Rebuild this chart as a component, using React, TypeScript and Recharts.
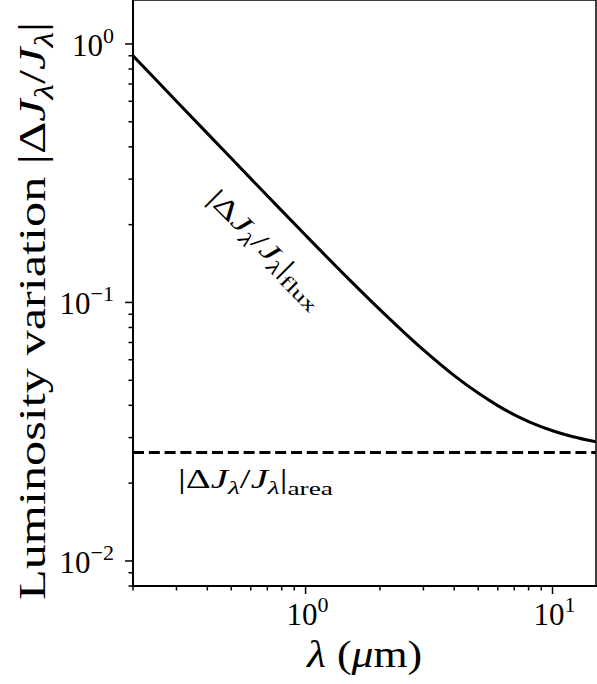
import React from "react";
import { LineChart, Line, XAxis, YAxis, ReferenceLine } from "recharts";

const lambda = [0.2, 0.25, 0.3, 0.4, 0.5, 0.6, 0.8, 1, 1.5, 2, 3, 4, 5, 6, 8, 10, 12, 15];
const fluxVariation = [
  0.9, 0.7205, 0.6006, 0.4508, 0.361, 0.3012, 0.2265, 0.1819, 0.1228, 0.0938, 0.0655,
  0.0521, 0.0446, 0.0399, 0.0346, 0.0319, 0.0303, 0.0289,
];
const areaVariation = 0.0263;

const xMajor = [1, 10];
const xMinor = [0.2, 0.3, 0.4, 0.5, 0.6, 0.7, 0.8, 0.9, 2, 3, 4, 5, 6, 7, 8, 9];
const yMajor = [0.01, 0.1, 1];
const yMinor = [0.008, 0.009, 0.02, 0.03, 0.04, 0.05, 0.06, 0.07, 0.08, 0.09, 0.2, 0.3, 0.4, 0.5, 0.6, 0.7, 0.8, 0.9];
const exponents: Record<number, string> = { 0.01: "\u22122", 0.1: "\u22121", 1: "0", 10: "1" };

const data = lambda.map((lam, i) => ({ lam, flux: fluxVariation[i] }));

const W = 597;
const H = 684;
const LEFT = 133;
const RIGHT = 596;
const TOP = 1;
const BOTTOM = 586;
const FONT = "'Liberation Serif', serif";

const isMajor = (v: number, majors: number[]) => majors.some((m) => Math.abs(m - v) < 1e-9);

function XTick(props: any) {
  const { x, payload } = props;
  const v = payload.value;
  const major = isMajor(v, xMajor);
  return (
    <g>
      <line x1={x} x2={x} y1={BOTTOM} y2={BOTTOM + (major ? 8 : 4.5)} stroke="#000" strokeWidth={1.5} />
      {major && (
        <text x={x + 2} y={BOTTOM + 39} textAnchor="middle" fontFamily={FONT} fontSize={31} fill="#000">
          10
          <tspan dy={-13} fontSize={22}>
            {exponents[v]}
          </tspan>
        </text>
      )}
    </g>
  );
}

function YTick(props: any) {
  const { y, payload } = props;
  const v = payload.value;
  const major = isMajor(v, yMajor);
  return (
    <g>
      <line x1={LEFT} x2={LEFT - (major ? 8 : 4.5)} y1={y} y2={y} stroke="#000" strokeWidth={1.5} />
      {major && (
        <text x={LEFT - 19} y={y + 12} textAnchor="end" fontFamily={FONT} fontSize={31} fill="#000">
          10
          <tspan dy={-13} fontSize={22}>
            {exponents[v]}
          </tspan>
        </text>
      )}
    </g>
  );
}

function RatioLabel({ sub, size }: { sub: string; size: number }) {
  const s = Math.round(size * 0.7);
  const d = Math.round(size * 0.22);
  return (
    <>
      |Δ<tspan fontStyle="italic">J</tspan>
      <tspan dy={d} fontSize={s} fontStyle="italic">λ</tspan>
      <tspan dy={-d}>/</tspan>
      <tspan fontStyle="italic">J</tspan>
      <tspan dy={d} fontSize={s} fontStyle="italic">λ</tspan>
      <tspan dy={-d}>|</tspan>
      {sub && (
        <tspan dy={d + 1} fontSize={s}>
          {sub}
        </tspan>
      )}
    </>
  );
}

export default function App() {
  return (
    <div style={{ position: "absolute", left: 0, top: 0, width: W, height: H, background: "#fff" }}>
      <LineChart width={W} height={H} data={data} margin={{ top: TOP, right: W - RIGHT, bottom: 0, left: 0 }}>
        <XAxis
          dataKey="lam"
          type="number"
          scale="log"
          domain={[0.2, 15]}
          allowDataOverflow
          ticks={[...xMinor, ...xMajor].sort((a, b) => a - b)}
          interval={0}
          tick={XTick}
          tickLine={false}
          axisLine={false}
          height={H - BOTTOM}
        />
        <YAxis
          type="number"
          scale="log"
          domain={[0.008, 1.466]}
          allowDataOverflow
          ticks={[...yMinor, ...yMajor].sort((a, b) => a - b)}
          interval={0}
          tick={YTick}
          tickLine={false}
          axisLine={false}
          width={LEFT}
        />
        <ReferenceLine y={areaVariation} stroke="#000" strokeWidth={3} strokeDasharray="11 4.8" />
        <Line
          dataKey="flux"
          type="monotone"
          stroke="#000"
          strokeWidth={3}
          dot={false}
          isAnimationActive={false}
        />
      </LineChart>
      <svg width={W} height={H} style={{ position: "absolute", left: 0, top: 0, pointerEvents: "none" }}>
        <line x1={LEFT} x2={LEFT} y1={0} y2={BOTTOM} stroke="#000" strokeWidth={2} />
        <line x1={LEFT} x2={RIGHT + 1} y1={BOTTOM} y2={BOTTOM} stroke="#000" strokeWidth={2} />
        <line x1={RIGHT} x2={RIGHT} y1={0} y2={BOTTOM} stroke="#000" strokeWidth={1.5} />
        <line x1={LEFT} x2={RIGHT} y1={0} y2={0} stroke="#000" strokeWidth={1.5} />
        <text x={178} y={488} fontFamily={FONT} fontSize={27} fill="#000" textLength={155} lengthAdjust="spacingAndGlyphs">
          <RatioLabel sub="area" size={27} />
        </text>
        <text
          x={-76}
          y={0}
          transform="translate(260 254) rotate(45)"
          fontFamily={FONT}
          fontSize={27}
          fill="#000"
          textLength={153}
          lengthAdjust="spacingAndGlyphs"
        >
          <RatioLabel sub="flux" size={27} />
        </text>
        <text
          x={307}
          y={667}
          fontFamily={FONT}
          fontSize={38}
          fill="#000"
          textLength={115}
          lengthAdjust="spacingAndGlyphs"
        >
          <tspan fontStyle="italic">λ</tspan> (<tspan fontStyle="italic">μ</tspan>m)
        </text>
        <text
          x={-289}
          y={0}
          transform="translate(45 311) rotate(-90)"
          fontFamily={FONT}
          fontSize={38}
          fill="#000"
          textLength={578}
          lengthAdjust="spacingAndGlyphs"
        >
          Luminosity variation <RatioLabel sub="" size={38} />
        </text>
      </svg>
    </div>
  );
}
